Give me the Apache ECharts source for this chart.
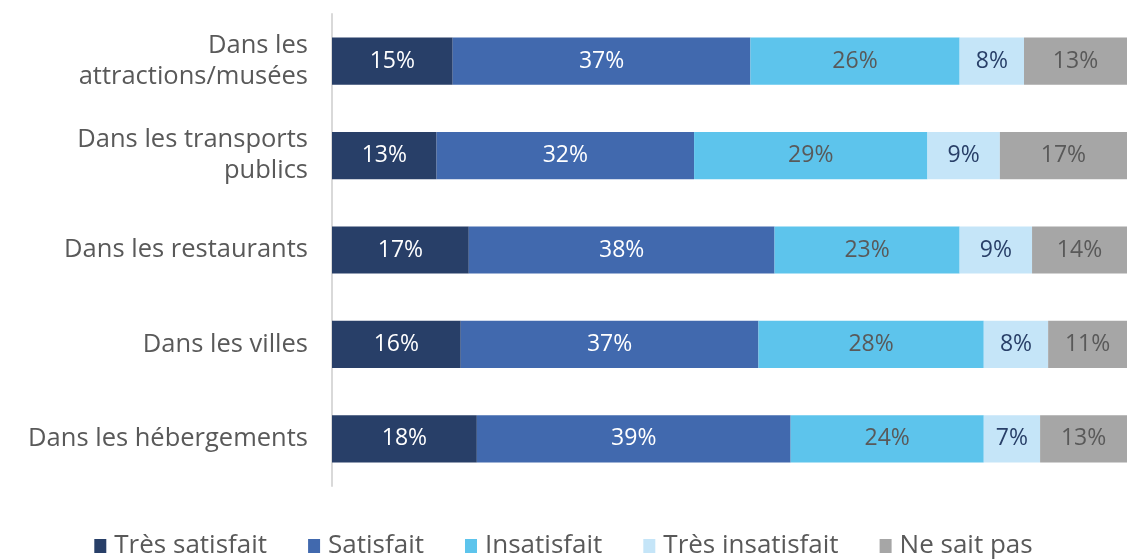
<!DOCTYPE html>
<html>
<head>
<meta charset="utf-8">
<script src="https://cdn.jsdelivr.net/npm/echarts@6/dist/echarts.min.js"></script>
<style>
  html, body { margin: 0; padding: 0; background: #ffffff; }
  #chart { width: 1127px; height: 559px; }
</style>
</head>
<body>
<div id="chart"></div>
<script>
// Satisfaction par lieu (en %)
const categories = [
  'Dans les\nattractions/musées',
  'Dans les transports\npublics',
  'Dans les restaurants',
  'Dans les villes',
  'Dans les hébergements'
];
const seriesNames = ['Très satisfait', 'Satisfait', 'Insatisfait', 'Très insatisfait', 'Ne sait pas'];
const tresSatisfait = [15, 13, 17, 16, 18];
const satisfait = [37, 32, 38, 37, 39];
const insatisfait = [26, 29, 23, 28, 24];
const tresInsatisfait = [8, 9, 9, 8, 7];
const neSaitPas = [13, 17, 14, 11, 13];

const values = [tresSatisfait, satisfait, insatisfait, tresInsatisfait, neSaitPas];
const colors = ['#283f68', '#4169ae', '#5dc4ec', '#c5e5f8', '#a6a6a6'];
const labelColors = ['#ffffff', '#ffffff', '#595959', '#283f68', '#595959'];
const FONT = '"Open Sans"';

const chart = echarts.init(document.getElementById('chart'), null, { renderer: 'canvas' });

chart.setOption({
  animation: false,
  textStyle: { fontFamily: FONT },
  grid: { left: 332, right: 0, top: 14, bottom: 73, containLabel: false },
  // the full 100 % runs slightly past the right edge, so the visible axis stops just short of it
  xAxis: {
    type: 'value', min: 0, max: 98.8,
    show: false
  },
  yAxis: {
    type: 'category',
    data: categories,
    inverse: true,
    axisLine: { show: true, lineStyle: { color: '#d9d9d9', width: 2 } },
    axisTick: { show: false },
    axisLabel: {
      color: '#595959', fontSize: 25.5, fontFamily: FONT, margin: 24,
      lineHeight: 31, align: 'right'
    }
  },
  legend: {
    top: 528, left: 'center',
    itemWidth: 12, itemHeight: 14, itemGap: 41,
    icon: 'rect',
    textStyle: { color: '#595959', fontSize: 26, fontFamily: FONT, padding: [0, 0, 0, 3] },
    data: seriesNames
  },
  series: seriesNames.map((name, i) => ({
    name: name,
    type: 'bar',
    stack: 'total',
    barWidth: '50%',
    data: values[i],
    itemStyle: { color: colors[i] },
    emphasis: { disabled: true },
    label: {
      show: true, position: 'inside',
      color: labelColors[i], fontSize: 23, fontFamily: FONT,
      formatter: p => p.value + '%'
    }
  }))
});
</script>
</body>
</html>
